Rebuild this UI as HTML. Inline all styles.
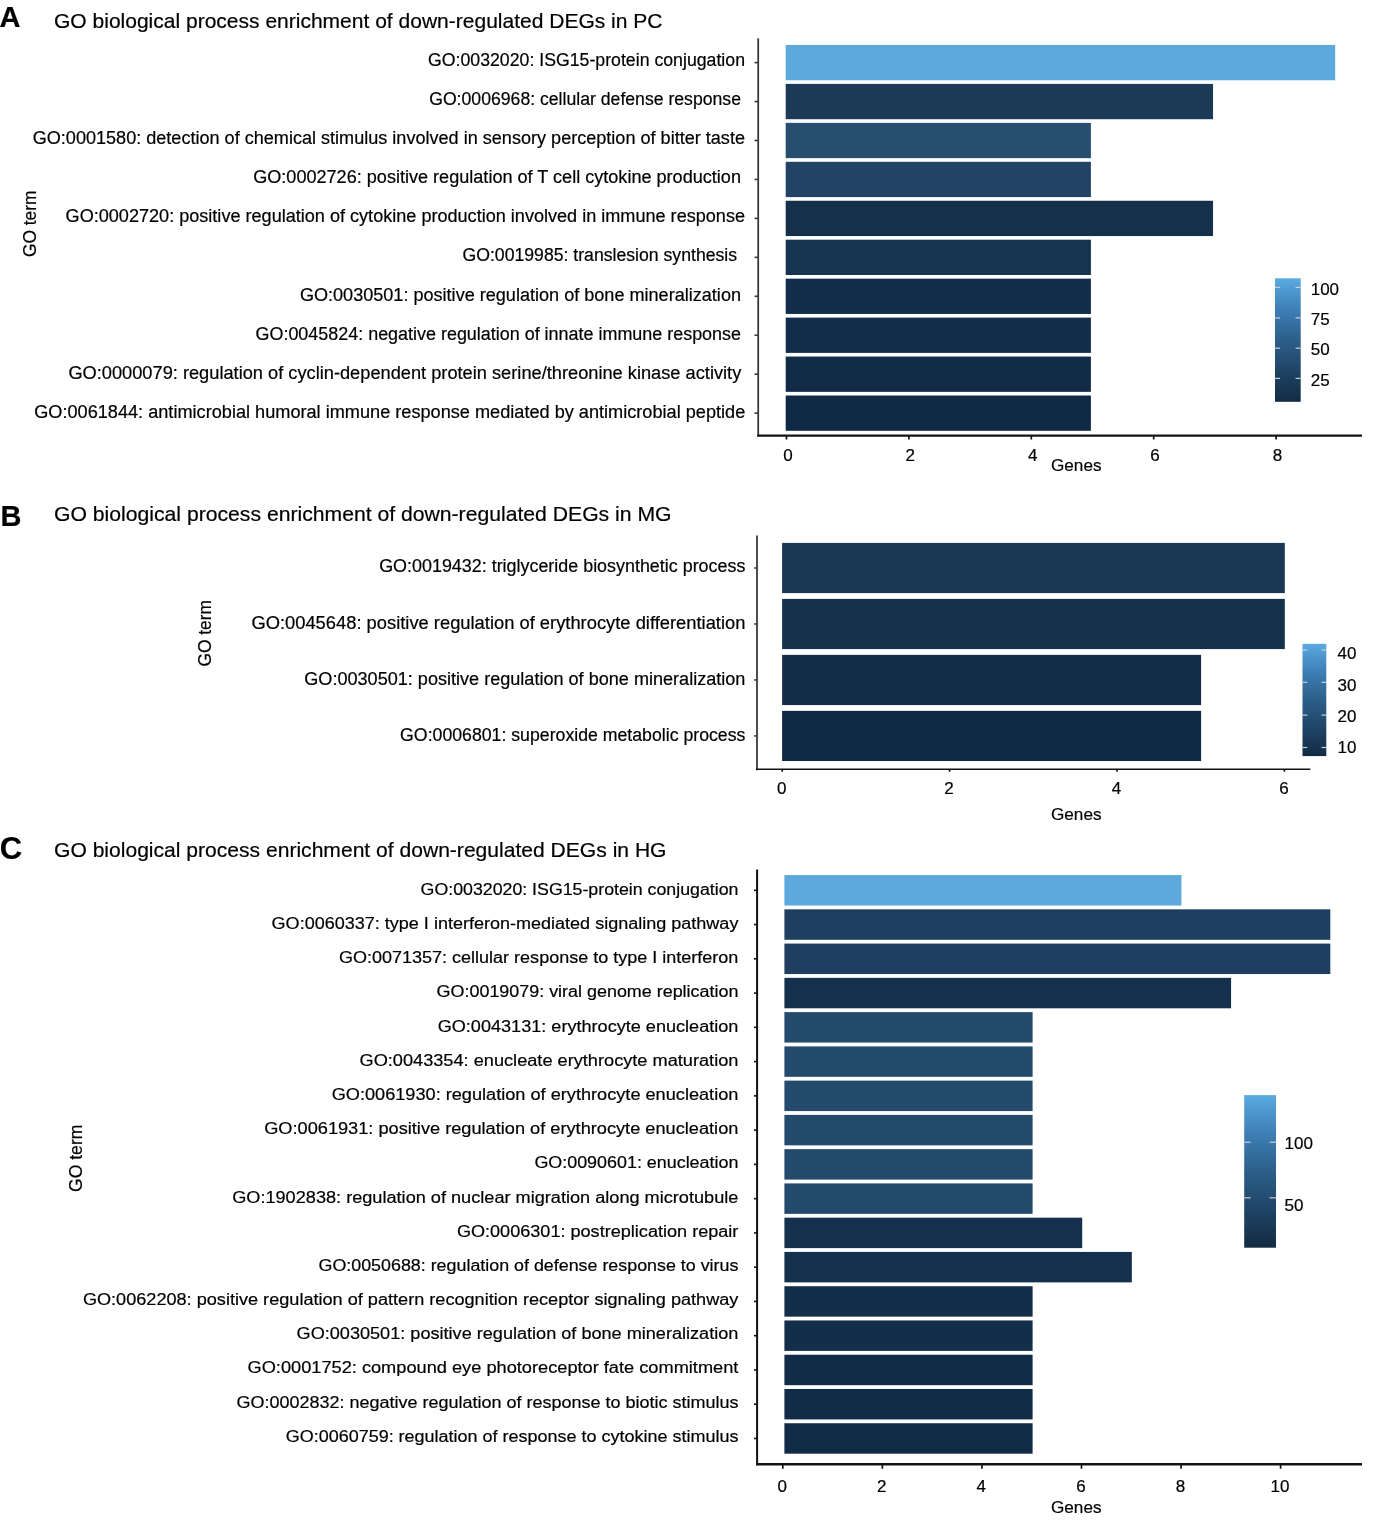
<!DOCTYPE html>
<html><head><meta charset="utf-8"><style>
html,body{margin:0;padding:0;background:#fff;width:1373px;height:1524px;overflow:hidden}
svg{display:block;will-change:transform}
text{font-family:"Liberation Sans", sans-serif;fill:#000;stroke:#000;stroke-width:0.2px}
</style></head><body>
<svg width="1373" height="1524" viewBox="0 0 1373 1524">
<rect width="1373" height="1524" fill="#fff"/>
<text x="-0.4" y="27.4" font-size="29" font-weight="bold" text-anchor="start">A</text>
<text x="54.0" y="28.4" font-size="20.8" font-weight="normal" text-anchor="start" textLength="608.5" lengthAdjust="spacingAndGlyphs">GO biological process enrichment of down-regulated DEGs in PC</text>
<text x="0.5" y="526.3" font-size="29" font-weight="bold" text-anchor="start">B</text>
<text x="54.0" y="521.4" font-size="20.8" font-weight="normal" text-anchor="start" textLength="617.5" lengthAdjust="spacingAndGlyphs">GO biological process enrichment of down-regulated DEGs in MG</text>
<text x="-0.2" y="859.0" font-size="31" font-weight="bold" text-anchor="start">C</text>
<text x="54.0" y="857.1" font-size="20.8" font-weight="normal" text-anchor="start" textLength="612.5" lengthAdjust="spacingAndGlyphs">GO biological process enrichment of down-regulated DEGs in HG</text>
<rect x="785.70" y="44.95" width="549.48" height="35.30" fill="#5DA9DC"/>
<rect x="785.70" y="83.90" width="427.34" height="35.30" fill="#1B3A57"/>
<rect x="785.70" y="122.85" width="305.20" height="35.30" fill="#274D6F"/>
<rect x="785.70" y="161.80" width="305.20" height="35.30" fill="#214466"/>
<rect x="785.70" y="200.75" width="427.34" height="35.30" fill="#14304B"/>
<rect x="785.70" y="239.70" width="305.20" height="35.30" fill="#16334F"/>
<rect x="785.70" y="278.65" width="305.20" height="35.30" fill="#122E4A"/>
<rect x="785.70" y="317.60" width="305.20" height="35.30" fill="#112D49"/>
<rect x="785.70" y="356.55" width="305.20" height="35.30" fill="#112B47"/>
<rect x="785.70" y="395.50" width="305.20" height="35.30" fill="#102A45"/>
<line x1="758.20" y1="38.20" x2="758.20" y2="436.60" stroke="#3a3a3a" stroke-width="1.8"/>
<line x1="757.20" y1="435.60" x2="1362.00" y2="435.60" stroke="#141414" stroke-width="2.3"/>
<line x1="754.50" y1="62.60" x2="758.20" y2="62.60" stroke="#3a3a3a" stroke-width="1.6"/>
<line x1="754.50" y1="101.55" x2="758.20" y2="101.55" stroke="#3a3a3a" stroke-width="1.6"/>
<line x1="754.50" y1="140.50" x2="758.20" y2="140.50" stroke="#3a3a3a" stroke-width="1.6"/>
<line x1="754.50" y1="179.45" x2="758.20" y2="179.45" stroke="#3a3a3a" stroke-width="1.6"/>
<line x1="754.50" y1="218.40" x2="758.20" y2="218.40" stroke="#3a3a3a" stroke-width="1.6"/>
<line x1="754.50" y1="257.35" x2="758.20" y2="257.35" stroke="#3a3a3a" stroke-width="1.6"/>
<line x1="754.50" y1="296.30" x2="758.20" y2="296.30" stroke="#3a3a3a" stroke-width="1.6"/>
<line x1="754.50" y1="335.25" x2="758.20" y2="335.25" stroke="#3a3a3a" stroke-width="1.6"/>
<line x1="754.50" y1="374.20" x2="758.20" y2="374.20" stroke="#3a3a3a" stroke-width="1.6"/>
<line x1="754.50" y1="413.15" x2="758.20" y2="413.15" stroke="#3a3a3a" stroke-width="1.6"/>
<text x="428.0" y="65.6" font-size="18" font-weight="normal" text-anchor="start" textLength="317.0" lengthAdjust="spacingAndGlyphs">GO:0032020: ISG15-protein conjugation</text>
<text x="429.2" y="104.8" font-size="18" font-weight="normal" text-anchor="start" textLength="311.8" lengthAdjust="spacingAndGlyphs">GO:0006968: cellular defense response</text>
<text x="32.7" y="143.9" font-size="18" font-weight="normal" text-anchor="start" textLength="712.3" lengthAdjust="spacingAndGlyphs">GO:0001580: detection of chemical stimulus involved in sensory perception of bitter taste</text>
<text x="253.2" y="183.1" font-size="18" font-weight="normal" text-anchor="start" textLength="487.8" lengthAdjust="spacingAndGlyphs">GO:0002726: positive regulation of T cell cytokine production</text>
<text x="65.6" y="222.2" font-size="18" font-weight="normal" text-anchor="start" textLength="679.4" lengthAdjust="spacingAndGlyphs">GO:0002720: positive regulation of cytokine production involved in immune response</text>
<text x="462.5" y="261.4" font-size="18" font-weight="normal" text-anchor="start" textLength="274.6" lengthAdjust="spacingAndGlyphs">GO:0019985: translesion synthesis</text>
<text x="299.9" y="300.6" font-size="18" font-weight="normal" text-anchor="start" textLength="441.1" lengthAdjust="spacingAndGlyphs">GO:0030501: positive regulation of bone mineralization</text>
<text x="255.5" y="339.7" font-size="18" font-weight="normal" text-anchor="start" textLength="485.5" lengthAdjust="spacingAndGlyphs">GO:0045824: negative regulation of innate immune response</text>
<text x="68.4" y="378.9" font-size="18" font-weight="normal" text-anchor="start" textLength="672.9" lengthAdjust="spacingAndGlyphs">GO:0000079: regulation of cyclin-dependent protein serine/threonine kinase activity</text>
<text x="34.2" y="418.0" font-size="18" font-weight="normal" text-anchor="start" textLength="711.1" lengthAdjust="spacingAndGlyphs">GO:0061844: antimicrobial humoral immune response mediated by antimicrobial peptide</text>
<line x1="786.50" y1="435.60" x2="786.50" y2="439.50" stroke="#141414" stroke-width="1.7"/>
<text x="787.9" y="461.2" font-size="17" font-weight="normal" text-anchor="middle">0</text>
<line x1="908.90" y1="435.60" x2="908.90" y2="439.50" stroke="#141414" stroke-width="1.7"/>
<text x="910.3" y="461.2" font-size="17" font-weight="normal" text-anchor="middle">2</text>
<line x1="1031.30" y1="435.60" x2="1031.30" y2="439.50" stroke="#141414" stroke-width="1.7"/>
<text x="1032.7" y="461.2" font-size="17" font-weight="normal" text-anchor="middle">4</text>
<line x1="1153.70" y1="435.60" x2="1153.70" y2="439.50" stroke="#141414" stroke-width="1.7"/>
<text x="1155.1" y="461.2" font-size="17" font-weight="normal" text-anchor="middle">6</text>
<line x1="1276.10" y1="435.60" x2="1276.10" y2="439.50" stroke="#141414" stroke-width="1.7"/>
<text x="1277.5" y="461.2" font-size="17" font-weight="normal" text-anchor="middle">8</text>
<text x="1051.0" y="471.2" font-size="17.3" font-weight="normal" text-anchor="start" textLength="50.5" lengthAdjust="spacingAndGlyphs">Genes</text>
<text transform="translate(36.0,257.0) rotate(-90)" x="0" y="0" font-size="18" textLength="66.4" lengthAdjust="spacingAndGlyphs">GO term</text>
<defs><linearGradient id="gA" x1="0" y1="1" x2="0" y2="0"><stop offset="0" stop-color="#132B43"/><stop offset="0.25" stop-color="#1F4466"/><stop offset="0.5" stop-color="#2C5F89"/><stop offset="0.75" stop-color="#3D7FB6"/><stop offset="1" stop-color="#5AAAE0"/></linearGradient></defs>
<rect x="1275.0" y="278.3" width="25.700000000000045" height="123.5" fill="url(#gA)"/>
<line x1="1275.00" y1="287.40" x2="1280.14" y2="287.40" stroke="#c9d0d8" stroke-width="1.2"/>
<line x1="1295.56" y1="287.40" x2="1300.70" y2="287.40" stroke="#c9d0d8" stroke-width="1.2"/>
<text x="1310.7" y="295.3" font-size="17" font-weight="normal" text-anchor="start">100</text>
<line x1="1275.00" y1="317.90" x2="1280.14" y2="317.90" stroke="#c9d0d8" stroke-width="1.2"/>
<line x1="1295.56" y1="317.90" x2="1300.70" y2="317.90" stroke="#c9d0d8" stroke-width="1.2"/>
<text x="1310.7" y="325.4" font-size="17" font-weight="normal" text-anchor="start">75</text>
<line x1="1275.00" y1="348.20" x2="1280.14" y2="348.20" stroke="#c9d0d8" stroke-width="1.2"/>
<line x1="1295.56" y1="348.20" x2="1300.70" y2="348.20" stroke="#c9d0d8" stroke-width="1.2"/>
<text x="1310.7" y="355.4" font-size="17" font-weight="normal" text-anchor="start">50</text>
<line x1="1275.00" y1="378.40" x2="1280.14" y2="378.40" stroke="#c9d0d8" stroke-width="1.2"/>
<line x1="1295.56" y1="378.40" x2="1300.70" y2="378.40" stroke="#c9d0d8" stroke-width="1.2"/>
<text x="1310.7" y="385.9" font-size="17" font-weight="normal" text-anchor="start">25</text>
<rect x="782.10" y="542.90" width="502.70" height="50.20" fill="#1A3856"/>
<rect x="782.10" y="598.88" width="502.70" height="50.20" fill="#16314C"/>
<rect x="782.10" y="654.86" width="419.00" height="50.20" fill="#142E49"/>
<rect x="782.10" y="710.84" width="419.00" height="50.20" fill="#102944"/>
<line x1="757.00" y1="535.50" x2="757.00" y2="770.20" stroke="#3a3a3a" stroke-width="1.8"/>
<line x1="756.00" y1="769.20" x2="1310.40" y2="769.20" stroke="#141414" stroke-width="1.6"/>
<line x1="754.20" y1="568.00" x2="757.00" y2="568.00" stroke="#3a3a3a" stroke-width="1.6"/>
<line x1="754.20" y1="623.98" x2="757.00" y2="623.98" stroke="#3a3a3a" stroke-width="1.6"/>
<line x1="754.20" y1="679.96" x2="757.00" y2="679.96" stroke="#3a3a3a" stroke-width="1.6"/>
<line x1="754.20" y1="735.94" x2="757.00" y2="735.94" stroke="#3a3a3a" stroke-width="1.6"/>
<text x="379.2" y="572.4" font-size="18" font-weight="normal" text-anchor="start" textLength="366.2" lengthAdjust="spacingAndGlyphs">GO:0019432: triglyceride biosynthetic process</text>
<text x="251.4" y="628.6" font-size="18" font-weight="normal" text-anchor="start" textLength="494.0" lengthAdjust="spacingAndGlyphs">GO:0045648: positive regulation of erythrocyte differentiation</text>
<text x="304.3" y="684.7" font-size="18" font-weight="normal" text-anchor="start" textLength="441.1" lengthAdjust="spacingAndGlyphs">GO:0030501: positive regulation of bone mineralization</text>
<text x="400.1" y="740.9" font-size="18" font-weight="normal" text-anchor="start" textLength="345.3" lengthAdjust="spacingAndGlyphs">GO:0006801: superoxide metabolic process</text>
<line x1="782.20" y1="769.20" x2="782.20" y2="771.70" stroke="#141414" stroke-width="1.7"/>
<text x="781.7" y="793.8" font-size="17" font-weight="normal" text-anchor="middle">0</text>
<line x1="949.60" y1="769.20" x2="949.60" y2="771.70" stroke="#141414" stroke-width="1.7"/>
<text x="949.1" y="793.8" font-size="17" font-weight="normal" text-anchor="middle">2</text>
<line x1="1117.00" y1="769.20" x2="1117.00" y2="771.70" stroke="#141414" stroke-width="1.7"/>
<text x="1116.5" y="793.8" font-size="17" font-weight="normal" text-anchor="middle">4</text>
<line x1="1284.40" y1="769.20" x2="1284.40" y2="771.70" stroke="#141414" stroke-width="1.7"/>
<text x="1283.9" y="793.8" font-size="17" font-weight="normal" text-anchor="middle">6</text>
<text x="1051.0" y="819.8" font-size="17.3" font-weight="normal" text-anchor="start" textLength="50.5" lengthAdjust="spacingAndGlyphs">Genes</text>
<text transform="translate(210.8,666.5) rotate(-90)" x="0" y="0" font-size="18" textLength="66.4" lengthAdjust="spacingAndGlyphs">GO term</text>
<defs><linearGradient id="gB" x1="0" y1="1" x2="0" y2="0"><stop offset="0" stop-color="#132B43"/><stop offset="0.25" stop-color="#1F4466"/><stop offset="0.5" stop-color="#2C5F89"/><stop offset="0.75" stop-color="#3D7FB6"/><stop offset="1" stop-color="#5AAAE0"/></linearGradient></defs>
<rect x="1302.5" y="643.8" width="23.799999999999955" height="112.30000000000007" fill="url(#gB)"/>
<line x1="1302.50" y1="650.00" x2="1307.26" y2="650.00" stroke="#c9d0d8" stroke-width="1.2"/>
<line x1="1321.54" y1="650.00" x2="1326.30" y2="650.00" stroke="#c9d0d8" stroke-width="1.2"/>
<text x="1337.6" y="659.0" font-size="17" font-weight="normal" text-anchor="start">40</text>
<line x1="1302.50" y1="682.30" x2="1307.26" y2="682.30" stroke="#c9d0d8" stroke-width="1.2"/>
<line x1="1321.54" y1="682.30" x2="1326.30" y2="682.30" stroke="#c9d0d8" stroke-width="1.2"/>
<text x="1337.6" y="690.9" font-size="17" font-weight="normal" text-anchor="start">30</text>
<line x1="1302.50" y1="715.10" x2="1307.26" y2="715.10" stroke="#c9d0d8" stroke-width="1.2"/>
<line x1="1321.54" y1="715.10" x2="1326.30" y2="715.10" stroke="#c9d0d8" stroke-width="1.2"/>
<text x="1337.6" y="721.6" font-size="17" font-weight="normal" text-anchor="start">20</text>
<line x1="1302.50" y1="747.50" x2="1307.26" y2="747.50" stroke="#c9d0d8" stroke-width="1.2"/>
<line x1="1321.54" y1="747.50" x2="1326.30" y2="747.50" stroke="#c9d0d8" stroke-width="1.2"/>
<text x="1337.6" y="752.7" font-size="17" font-weight="normal" text-anchor="start">10</text>
<rect x="784.40" y="875.07" width="397.06" height="30.45" fill="#5DA9DC"/>
<rect x="784.40" y="909.33" width="545.92" height="30.45" fill="#1E3F5F"/>
<rect x="784.40" y="943.59" width="545.92" height="30.45" fill="#1E3F5F"/>
<rect x="784.40" y="977.85" width="446.68" height="30.45" fill="#14304D"/>
<rect x="784.40" y="1012.11" width="248.20" height="30.45" fill="#244A6C"/>
<rect x="784.40" y="1046.38" width="248.20" height="30.45" fill="#244A6C"/>
<rect x="784.40" y="1080.63" width="248.20" height="30.45" fill="#244A6C"/>
<rect x="784.40" y="1114.89" width="248.20" height="30.45" fill="#244A6C"/>
<rect x="784.40" y="1149.15" width="248.20" height="30.45" fill="#244A6C"/>
<rect x="784.40" y="1183.41" width="248.20" height="30.45" fill="#244A6C"/>
<rect x="784.40" y="1217.67" width="297.82" height="30.45" fill="#15314E"/>
<rect x="784.40" y="1251.93" width="347.44" height="30.45" fill="#14304C"/>
<rect x="784.40" y="1286.20" width="248.20" height="30.45" fill="#132E4A"/>
<rect x="784.40" y="1320.45" width="248.20" height="30.45" fill="#132E4A"/>
<rect x="784.40" y="1354.72" width="248.20" height="30.45" fill="#122C48"/>
<rect x="784.40" y="1388.97" width="248.20" height="30.45" fill="#122C48"/>
<rect x="784.40" y="1423.24" width="248.20" height="30.45" fill="#112A46"/>
<line x1="757.10" y1="869.60" x2="757.10" y2="1465.30" stroke="#111111" stroke-width="2.0"/>
<line x1="756.10" y1="1464.30" x2="1362.00" y2="1464.30" stroke="#141414" stroke-width="2.4"/>
<line x1="754.00" y1="890.30" x2="757.10" y2="890.30" stroke="#111111" stroke-width="1.6"/>
<line x1="754.00" y1="924.56" x2="757.10" y2="924.56" stroke="#111111" stroke-width="1.6"/>
<line x1="754.00" y1="958.82" x2="757.10" y2="958.82" stroke="#111111" stroke-width="1.6"/>
<line x1="754.00" y1="993.08" x2="757.10" y2="993.08" stroke="#111111" stroke-width="1.6"/>
<line x1="754.00" y1="1027.34" x2="757.10" y2="1027.34" stroke="#111111" stroke-width="1.6"/>
<line x1="754.00" y1="1061.60" x2="757.10" y2="1061.60" stroke="#111111" stroke-width="1.6"/>
<line x1="754.00" y1="1095.86" x2="757.10" y2="1095.86" stroke="#111111" stroke-width="1.6"/>
<line x1="754.00" y1="1130.12" x2="757.10" y2="1130.12" stroke="#111111" stroke-width="1.6"/>
<line x1="754.00" y1="1164.38" x2="757.10" y2="1164.38" stroke="#111111" stroke-width="1.6"/>
<line x1="754.00" y1="1198.64" x2="757.10" y2="1198.64" stroke="#111111" stroke-width="1.6"/>
<line x1="754.00" y1="1232.90" x2="757.10" y2="1232.90" stroke="#111111" stroke-width="1.6"/>
<line x1="754.00" y1="1267.16" x2="757.10" y2="1267.16" stroke="#111111" stroke-width="1.6"/>
<line x1="754.00" y1="1301.42" x2="757.10" y2="1301.42" stroke="#111111" stroke-width="1.6"/>
<line x1="754.00" y1="1335.68" x2="757.10" y2="1335.68" stroke="#111111" stroke-width="1.6"/>
<line x1="754.00" y1="1369.94" x2="757.10" y2="1369.94" stroke="#111111" stroke-width="1.6"/>
<line x1="754.00" y1="1404.20" x2="757.10" y2="1404.20" stroke="#111111" stroke-width="1.6"/>
<line x1="754.00" y1="1438.46" x2="757.10" y2="1438.46" stroke="#111111" stroke-width="1.6"/>
<text x="420.6" y="894.9" font-size="17.3" font-weight="normal" text-anchor="start" textLength="317.8" lengthAdjust="spacingAndGlyphs">GO:0032020: ISG15-protein conjugation</text>
<text x="271.6" y="929.0" font-size="17.3" font-weight="normal" text-anchor="start" textLength="466.8" lengthAdjust="spacingAndGlyphs">GO:0060337: type I interferon-mediated signaling pathway</text>
<text x="338.9" y="963.2" font-size="17.3" font-weight="normal" text-anchor="start" textLength="399.5" lengthAdjust="spacingAndGlyphs">GO:0071357: cellular response to type I interferon</text>
<text x="436.6" y="997.4" font-size="17.3" font-weight="normal" text-anchor="start" textLength="301.8" lengthAdjust="spacingAndGlyphs">GO:0019079: viral genome replication</text>
<text x="437.7" y="1031.6" font-size="17.3" font-weight="normal" text-anchor="start" textLength="300.7" lengthAdjust="spacingAndGlyphs">GO:0043131: erythrocyte enucleation</text>
<text x="359.5" y="1065.8" font-size="17.3" font-weight="normal" text-anchor="start" textLength="378.9" lengthAdjust="spacingAndGlyphs">GO:0043354: enucleate erythrocyte maturation</text>
<text x="331.7" y="1099.9" font-size="17.3" font-weight="normal" text-anchor="start" textLength="406.7" lengthAdjust="spacingAndGlyphs">GO:0061930: regulation of erythrocyte enucleation</text>
<text x="264.2" y="1134.1" font-size="17.3" font-weight="normal" text-anchor="start" textLength="474.2" lengthAdjust="spacingAndGlyphs">GO:0061931: positive regulation of erythrocyte enucleation</text>
<text x="534.4" y="1168.3" font-size="17.3" font-weight="normal" text-anchor="start" textLength="204.0" lengthAdjust="spacingAndGlyphs">GO:0090601: enucleation</text>
<text x="232.2" y="1202.5" font-size="17.3" font-weight="normal" text-anchor="start" textLength="506.2" lengthAdjust="spacingAndGlyphs">GO:1902838: regulation of nuclear migration along microtubule</text>
<text x="456.9" y="1236.6" font-size="17.3" font-weight="normal" text-anchor="start" textLength="281.5" lengthAdjust="spacingAndGlyphs">GO:0006301: postreplication repair</text>
<text x="318.5" y="1270.8" font-size="17.3" font-weight="normal" text-anchor="start" textLength="419.9" lengthAdjust="spacingAndGlyphs">GO:0050688: regulation of defense response to virus</text>
<text x="82.9" y="1305.0" font-size="17.3" font-weight="normal" text-anchor="start" textLength="655.5" lengthAdjust="spacingAndGlyphs">GO:0062208: positive regulation of pattern recognition receptor signaling pathway</text>
<text x="296.6" y="1339.2" font-size="17.3" font-weight="normal" text-anchor="start" textLength="441.8" lengthAdjust="spacingAndGlyphs">GO:0030501: positive regulation of bone mineralization</text>
<text x="247.5" y="1373.4" font-size="17.3" font-weight="normal" text-anchor="start" textLength="490.9" lengthAdjust="spacingAndGlyphs">GO:0001752: compound eye photoreceptor fate commitment</text>
<text x="236.5" y="1407.5" font-size="17.3" font-weight="normal" text-anchor="start" textLength="501.9" lengthAdjust="spacingAndGlyphs">GO:0002832: negative regulation of response to biotic stimulus</text>
<text x="285.7" y="1441.7" font-size="17.3" font-weight="normal" text-anchor="start" textLength="452.7" lengthAdjust="spacingAndGlyphs">GO:0060759: regulation of response to cytokine stimulus</text>
<line x1="782.80" y1="1464.30" x2="782.80" y2="1468.80" stroke="#141414" stroke-width="1.7"/>
<text x="782.2" y="1491.9" font-size="17" font-weight="normal" text-anchor="middle">0</text>
<line x1="882.36" y1="1464.30" x2="882.36" y2="1468.80" stroke="#141414" stroke-width="1.7"/>
<text x="881.8" y="1491.9" font-size="17" font-weight="normal" text-anchor="middle">2</text>
<line x1="981.92" y1="1464.30" x2="981.92" y2="1468.80" stroke="#141414" stroke-width="1.7"/>
<text x="981.3" y="1491.9" font-size="17" font-weight="normal" text-anchor="middle">4</text>
<line x1="1081.48" y1="1464.30" x2="1081.48" y2="1468.80" stroke="#141414" stroke-width="1.7"/>
<text x="1080.9" y="1491.9" font-size="17" font-weight="normal" text-anchor="middle">6</text>
<line x1="1181.04" y1="1464.30" x2="1181.04" y2="1468.80" stroke="#141414" stroke-width="1.7"/>
<text x="1180.4" y="1491.9" font-size="17" font-weight="normal" text-anchor="middle">8</text>
<line x1="1280.60" y1="1464.30" x2="1280.60" y2="1468.80" stroke="#141414" stroke-width="1.7"/>
<text x="1280.0" y="1491.9" font-size="17" font-weight="normal" text-anchor="middle">10</text>
<text x="1051.0" y="1513.4" font-size="17.3" font-weight="normal" text-anchor="start" textLength="50.5" lengthAdjust="spacingAndGlyphs">Genes</text>
<text transform="translate(81.8,1192.0) rotate(-90)" x="0" y="0" font-size="18" textLength="67.4" lengthAdjust="spacingAndGlyphs">GO term</text>
<defs><linearGradient id="gC" x1="0" y1="1" x2="0" y2="0"><stop offset="0" stop-color="#132B43"/><stop offset="0.25" stop-color="#1F4466"/><stop offset="0.5" stop-color="#2C5F89"/><stop offset="0.75" stop-color="#3D7FB6"/><stop offset="1" stop-color="#5AAAE0"/></linearGradient></defs>
<rect x="1244.2" y="1095.1" width="31.799999999999955" height="152.60000000000014" fill="url(#gC)"/>
<line x1="1244.20" y1="1142.20" x2="1250.56" y2="1142.20" stroke="#c9d0d8" stroke-width="1.2"/>
<line x1="1269.64" y1="1142.20" x2="1276.00" y2="1142.20" stroke="#c9d0d8" stroke-width="1.2"/>
<text x="1284.5" y="1149.1" font-size="17" font-weight="normal" text-anchor="start">100</text>
<line x1="1244.20" y1="1197.80" x2="1250.56" y2="1197.80" stroke="#c9d0d8" stroke-width="1.2"/>
<line x1="1269.64" y1="1197.80" x2="1276.00" y2="1197.80" stroke="#c9d0d8" stroke-width="1.2"/>
<text x="1284.5" y="1211.0" font-size="17" font-weight="normal" text-anchor="start">50</text>
</svg>
</body></html>
